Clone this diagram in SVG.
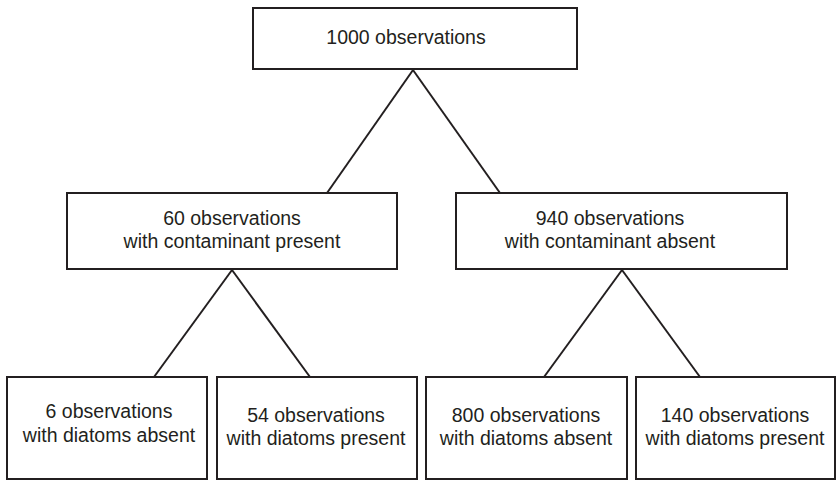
<svg xmlns="http://www.w3.org/2000/svg" width="836" height="480" viewBox="0 0 836 480">
<style>
.box{fill:#fff;stroke:#231f20;stroke-width:2}
line{stroke:#231f20;stroke-width:2}
text{font-family:"Liberation Sans",Arial,sans-serif;font-size:19.5px;fill:#231f20;text-anchor:middle}
</style>
<rect width="836" height="480" fill="#fff"/>
<g id="connectors">
<line x1="413" y1="70" x2="327" y2="193"/>
<line x1="413" y1="70" x2="500" y2="193"/>
<line x1="232" y1="270" x2="154" y2="377"/>
<line x1="232" y1="270" x2="310" y2="377"/>
<line x1="622" y1="270" x2="544" y2="377"/>
<line x1="622" y1="270" x2="700" y2="377"/>
</g>
<g id="n_root"><rect class="box" x="253" y="8" width="324" height="61"/><text x="406" y="44">1000 observations</text></g>
<g id="n_cp"><rect class="box" x="67" y="193" width="330" height="76"/><text x="232" y="225">60 observations</text><text x="232" y="248">with contaminant present</text></g>
<g id="n_ca"><rect class="box" x="456" y="193" width="331" height="76"/><text x="610" y="225">940 observations</text><text x="610" y="248">with contaminant absent</text></g>
<g id="n_1"><rect class="box" x="7" y="377" width="200" height="102"/><text x="109" y="418">6 observations</text><text x="109" y="442">with diatoms absent</text></g>
<g id="n_2"><rect class="box" x="217" y="377" width="200" height="102"/><text x="316" y="422">54 observations</text><text x="316" y="445">with diatoms present</text></g>
<g id="n_3"><rect class="box" x="426" y="377" width="201" height="102"/><text x="526" y="422">800 observations</text><text x="526" y="445">with diatoms absent</text></g>
<g id="n_4"><rect class="box" x="636" y="377" width="199" height="102"/><text x="735" y="422">140 observations</text><text x="735" y="445">with diatoms present</text></g>
</svg>
